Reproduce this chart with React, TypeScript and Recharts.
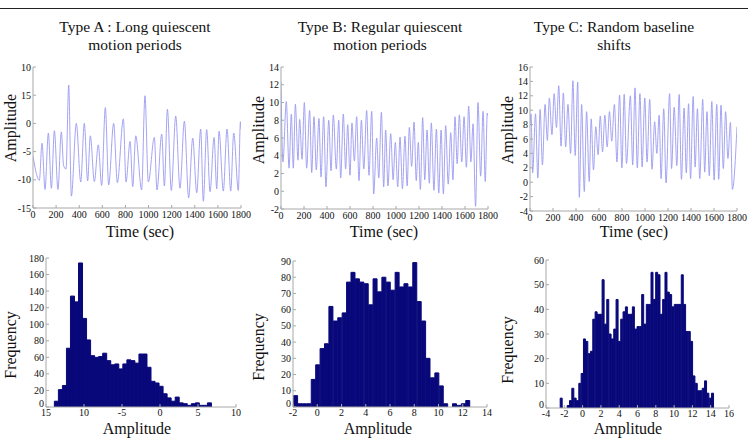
import { LineChart, Line, BarChart, Bar, XAxis, YAxis } from 'recharts';

// ---- signal traces (turning points of each recording, sec / amplitude) ----
const timeA = [0, 55, 78, 104, 133, 159, 185, 216, 245, 265, 286, 309, 332, 375, 413, 444, 473, 496, 531, 565, 594, 626, 655, 698, 730, 782, 805, 840, 863, 889, 940, 969, 998, 1050, 1073, 1114, 1137, 1163, 1197, 1235, 1272, 1310, 1347, 1382, 1417, 1451, 1474, 1503, 1532, 1567, 1590, 1610, 1647, 1679, 1711, 1737, 1777, 1795, 1800];
const ampA = [-5.8, -10.1, -3.5, -11.7, -1.7, -11.5, -1.3, -11.7, -1.5, -7.5, -8.1, 6.8, -12.9, 0, -10.4, 0, -10.2, -2.2, -10.3, -3.8, -11, 2.8, -10.9, 0, -10.5, 0.8, -10.4, -3.2, -11.2, -2.2, -11.8, 4.9, -10.4, -2.5, -11.8, -1.9, -11.1, 2.5, -11.9, 1.3, -11.5, 0.4, -13.2, -2.6, -12.3, -1, -13.8, -1.1, -12.1, -2.5, -11.6, -1.4, -12, -1, -12, -1.7, -11.9, 0.3, -1];

const timeB = [0, 17, 46, 70, 90, 107, 125, 148, 162, 183, 203, 223, 249, 267, 287, 307, 330, 348, 371, 391, 415, 435, 455, 481, 502, 519, 542, 562, 580, 600, 617, 638, 658, 678, 699, 720, 745, 765, 789, 806, 832, 850, 873, 893, 910, 930, 954, 975, 994, 1015, 1035, 1056, 1078, 1097, 1116, 1136, 1157, 1176, 1194, 1212, 1232, 1250, 1270, 1290, 1307, 1330, 1351, 1372, 1392, 1412, 1432, 1454, 1476, 1495, 1513, 1532, 1551, 1572, 1592, 1612, 1632, 1651, 1670, 1692, 1713, 1736, 1757, 1776, 1794, 1800];
const ampB = [12.3, 3.3, 10.1, 2.6, 8.7, 2.6, 9.8, 3.5, 8.1, 3.6, 10.0, 2.6, 9.1, 2.1, 8.4, 2.4, 8.2, 1.6, 8.4, 0.5, 8.0, 2.3, 8.6, 2.5, 8.0, 1.5, 8.7, 2.5, 7.5, 1.8, 7.7, 3.4, 8.4, 1.2, 8.0, 2.5, 9.1, 1.8, 9.0, -0.3, 6.0, 1.5, 8.9, 0.5, 6.9, 0.6, 6.5, 1.3, 5.5, 0.5, 6.1, 0.3, 6.2, 0.6, 7.2, 2.8, 7.8, 1.2, 5.5, 0.2, 8.3, 1.3, 6.9, 0.9, 7.7, 0.1, 7.0, -0.2, 6.9, -0.3, 7.4, 0.8, 6.6, 1.3, 8.4, 3.1, 8.6, 3.3, 8.4, 2.7, 9.6, 3.3, 7.6, -1.7, 10.0, 1.7, 9.0, 1.1, 8.8, 8.5];

const timeC = [0, 9, 23, 48, 68, 88, 108, 131, 151, 168, 191, 210, 230, 250, 270, 290, 310, 330, 353, 373, 393, 415, 429, 449, 472, 492, 515, 532, 552, 572, 592, 611, 631, 651, 671, 691, 711, 734, 756, 779, 799, 819, 839, 873, 893, 913, 933, 956, 975, 998, 1018, 1041, 1061, 1084, 1103, 1123, 1140, 1163, 1183, 1214, 1231, 1254, 1277, 1297, 1317, 1340, 1359, 1379, 1396, 1419, 1436, 1456, 1476, 1502, 1519, 1539, 1559, 1581, 1601, 1624, 1641, 1661, 1681, 1701, 1721, 1743, 1760, 1800];
const ampC = [7.9, 9.5, 1.3, 9.5, 0.6, 10.1, 2.4, 10.8, 5.8, 11.7, 6.6, 12.3, 7.6, 13.4, 5.0, 12.4, 4.9, 10.8, 4.0, 14.1, 3.7, 13.9, -2.1, 10.8, -1.3, 9.8, 0.1, 8.8, 1.7, 7.7, 3.8, 9.2, 4.2, 9.3, 4.9, 9.8, 5.7, 10.8, 2.8, 12.1, 2.0, 12.2, 2.6, 12.0, 2.4, 13.1, 2.0, 12.3, 2.1, 11.7, 2.8, 11.5, 1.8, 8.4, 4.0, 9.3, 0.5, 10.2, -0.1, 12.3, 1.9, 10.4, 2.3, 12.2, 0.4, 10.3, 1.3, 10.9, 0.5, 11.9, 2.1, 10.2, 0.5, 11.5, 1.4, 9.8, 0.9, 11.2, 0.3, 10.8, 0.4, 10.7, 1.9, 9.8, 3.3, 8.3, -1.0, 7.7];

// ---- amplitude histograms (bin counts, first bin edge, bin width) ----
const countsA = [7, 21, 26, 71, 134, 127, 174, 107, 81, 62, 60, 61, 65, 56, 51, 52, 46, 52, 57, 56, 53, 64, 64, 48, 31, 29, 25, 16, 11, 7, 12, 5, 4, 2, 4, 5, 2, 2, 5];
const binStartA = -13.9;
const binWidthA = 0.53;

const countsB = [7, 2, 2, 2, 17, 26, 36, 39, 62, 53, 55, 58, 77, 83, 79, 77, 76, 63, 79, 71, 80, 77, 72, 83, 74, 76, 74, 89, 65, 53, 30, 18, 21, 13, 2, 0, 2, 1, 2, 4];
const binStartB = -1.95;
const binWidthB = 0.364;

const countsC = [4, 0, 0, 1, 3, 8, 4, 3, 10, 14, 28, 27, 22, 23, 36, 39, 38, 38, 52, 34, 44, 30, 28, 32, 44, 27, 36, 39, 41, 38, 38, 41, 32, 33, 33, 46, 34, 42, 42, 55, 44, 55, 54, 38, 44, 55, 47, 46, 41, 42, 42, 42, 54, 42, 31, 31, 27, 13, 10, 7, 7, 8, 11, 6, 4, 6];
const binStartC = -2.45;
const binWidthC = 0.2545;

// ---- ticks ----
const timeTicks = [0, 200, 400, 600, 800, 1000, 1200, 1400, 1600, 1800];
const ampTicksA = [-15, -10, -5, 0, 5, 10];
const ampTickTextA = ['-15', '-10', '-5', '0', '15', '10'];
const ampTicksB = [-2, 0, 2, 4, 6, 8, 10, 12, 14];
const ampTicksC = [-4, -2, 0, 2, 4, 6, 8, 10, 12, 14, 16];
const histXTicksA = [-15, -10, -5, 0, 5, 10];
const histXTextA = ['15', '10', '-5', '0', '5', '10'];
const histYTicksA = [0, 20, 40, 60, 80, 100, 120, 140, 160, 180];
const histXTicksB = [-2, 0, 2, 4, 6, 8, 10, 12, 14];
const histYTicksB = [0, 10, 20, 30, 40, 50, 60, 70, 80, 90];
const histXTicksC = [-4, -2, 0, 2, 4, 6, 8, 10, 12, 14, 16];
const histYTicksC = [0, 10, 20, 30, 40, 50, 60];

const titles = [
  ['Type A : Long quiescent', 'motion periods'],
  ['Type B: Regular quiescent', 'motion periods'],
  ['Type C: Random baseline', 'shifts'],
];

const SERIF = '"Liberation Serif", "DejaVu Serif", serif';
const LINE_BLUE = '#9a9af2';
const BAR_NAVY = '#08087a';
const FRAME = '#a8a8a8';
const Y_AXIS_W = 32;
const X_AXIS_H = 20;
const PAD = 4;
const PAD_RIGHT = 12;

type Box = { x: number; y: number; w: number; h: number };

const labelFor = (ticks: number[], labels?: string[]) => (v: number) => {
  const i = ticks.indexOf(v);
  return labels && i >= 0 ? labels[i] : String(v);
};

const tickStyle = { fill: '#111', fontSize: 10, fontFamily: SERIF };

// y tick text; the lowest one is lifted a little so it clears the x labels in the corner
function yTickRenderer(ticks: number[], labels: string[] | undefined, lift: number) {
  const fmt = labelFor(ticks, labels);
  return (props: any) => {
    const { x, y, payload } = props;
    const dy = payload.value === ticks[0] ? -lift : 0;
    return (
      <text x={x} y={y + dy} dy="0.355em" textAnchor="end" fill="#111" fontSize={10} fontFamily={SERIF}>
        {fmt(payload.value)}
      </text>
    );
  };
}

// bottom/left carry the labels, top/right only close the box; all ticks point inwards
function frameAxes(xKey: string, xTicks: number[], yTicks: number[], xLabelMargin: number, lift: number, xText?: string[], yText?: string[]) {
  const xDomain = [xTicks[0], xTicks[xTicks.length - 1]];
  const yDomain = [yTicks[0], yTicks[yTicks.length - 1]];
  const line = { stroke: FRAME };
  return [
    <XAxis key="xb" xAxisId="b" dataKey={xKey} type="number" domain={xDomain} ticks={xTicks} interval={0} allowDataOverflow
      height={X_AXIS_H} tickSize={-3} tickMargin={xLabelMargin} tick={tickStyle} tickFormatter={labelFor(xTicks, xText)}
      axisLine={line} tickLine={line} />,
    <XAxis key="xt" xAxisId="t" orientation="top" type="number" domain={xDomain} ticks={xTicks} interval={0} allowDataOverflow
      height={0} tickSize={-3} tick={false} axisLine={line} tickLine={line} />,
    <YAxis key="yl" yAxisId="l" type="number" domain={yDomain} ticks={yTicks} interval={0} allowDataOverflow
      width={Y_AXIS_W} tickSize={-3} tickMargin={5} tick={yTickRenderer(yTicks, yText, lift)}
      axisLine={line} tickLine={line} />,
    <YAxis key="yr" yAxisId="r" orientation="right" type="number" domain={yDomain} ticks={yTicks} interval={0} allowDataOverflow
      width={0} tickSize={-3} tick={false} axisLine={line} tickLine={line} />,
  ];
}

function SignalPanel({ box, times, amps, yTicks, yText }: { box: Box; times: number[]; amps: number[]; yTicks: number[]; yText?: string[] }) {
  const data = times.map((t, i) => ({ t, v: amps[i] }));
  return (
    <div style={{ position: 'absolute', left: box.x - Y_AXIS_W, top: box.y - PAD }}>
      <LineChart width={Y_AXIS_W + box.w + PAD_RIGHT} height={PAD + box.h + X_AXIS_H} data={data}
        margin={{ top: PAD, right: PAD_RIGHT, bottom: 0, left: 0 }}>
        {frameAxes('t', timeTicks, yTicks, 6, 0, undefined, yText)}
        <Line xAxisId="b" yAxisId="l" dataKey="v" type="monotone" stroke={LINE_BLUE} strokeWidth={0.9}
          dot={false} isAnimationActive={false} />
      </LineChart>
    </div>
  );
}

function HistPanel({ box, counts, start, width, xTicks, yTicks, xText }: { box: Box; counts: number[]; start: number; width: number; xTicks: number[]; yTicks: number[]; xText?: string[] }) {
  const data = counts.map((n, i) => ({ x: start + (i + 0.5) * width, n }));
  return (
    <div style={{ position: 'absolute', left: box.x - Y_AXIS_W, top: box.y - PAD }}>
      <BarChart width={Y_AXIS_W + box.w + PAD_RIGHT} height={PAD + box.h + X_AXIS_H} data={data}
        margin={{ top: PAD, right: PAD_RIGHT, bottom: 0, left: 0 }} barCategoryGap={0} barGap={0}>
        {frameAxes('x', xTicks, yTicks, 5, 4, xText)}
        <Bar xAxisId="b" yAxisId="l" dataKey="n" fill={BAR_NAVY} stroke={BAR_NAVY} strokeWidth={1}
          isAnimationActive={false} />
      </BarChart>
    </div>
  );
}

function AxisTitle({ x, y, text, vertical }: { x: number; y: number; text: string; vertical?: boolean }) {
  return (
    <div style={{
      position: 'absolute', left: x - 60, top: y - 10, width: 120, height: 20, lineHeight: '20px',
      textAlign: 'center', fontSize: 16, color: '#111', whiteSpace: 'nowrap',
      transform: vertical ? 'rotate(-90deg)' : undefined,
    }}>{text}</div>
  );
}

export default function App() {
  const titleCenters = [135, 380, 614];
  return (
    <div style={{ position: 'absolute', left: 0, top: 0, width: 748, height: 440, background: '#fff', overflow: 'hidden', fontFamily: SERIF }}>
      <div style={{ position: 'absolute', left: 0, top: 8, width: 748, borderTop: '1.5px solid #222' }} />

      {titles.map((lines, i) => (
        <div key={i} style={{ position: 'absolute', left: titleCenters[i] - 120, top: 18, width: 240, textAlign: 'center', fontSize: 15.5, lineHeight: '18px', color: '#111' }}>
          {lines.map((l) => <div key={l}>{l}</div>)}
        </div>
      ))}

      <SignalPanel box={{ x: 33, y: 67, w: 208, h: 141 }} times={timeA} amps={ampA} yTicks={ampTicksA} yText={ampTickTextA} />
      <SignalPanel box={{ x: 281, y: 67, w: 207, h: 142 }} times={timeB} amps={ampB} yTicks={ampTicksB} />
      <SignalPanel box={{ x: 530, y: 67, w: 207, h: 144 }} times={timeC} amps={ampC} yTicks={ampTicksC} />

      <HistPanel box={{ x: 46, y: 258, w: 190, h: 149 }} counts={countsA} start={binStartA} width={binWidthA}
        xTicks={histXTicksA} yTicks={histYTicksA} xText={histXTextA} />
      <HistPanel box={{ x: 293, y: 261, w: 194, h: 146 }} counts={countsB} start={binStartB} width={binWidthB}
        xTicks={histXTicksB} yTicks={histYTicksB} />
      <HistPanel box={{ x: 546, y: 260, w: 183, h: 148 }} counts={countsC} start={binStartC} width={binWidthC}
        xTicks={histXTicksC} yTicks={histYTicksC} />

      <AxisTitle x={11} y={128} text="Amplitude" vertical />
      <AxisTitle x={259} y={130} text="Amplitude" vertical />
      <AxisTitle x={508} y={130} text="Amplitude" vertical />
      <AxisTitle x={140} y={232} text="Time (sec)" />
      <AxisTitle x={384} y={232} text="Time (sec)" />
      <AxisTitle x={634} y={232} text="Time (sec)" />

      <AxisTitle x={11} y={345} text="Frequency" vertical />
      <AxisTitle x={259} y={347} text="Frequency" vertical />
      <AxisTitle x={508} y={350} text="Frequency" vertical />
      <AxisTitle x={137} y={429} text="Amplitude" />
      <AxisTitle x={378} y={429} text="Amplitude" />
      <AxisTitle x={628} y={429} text="Amplitude" />
    </div>
  );
}
